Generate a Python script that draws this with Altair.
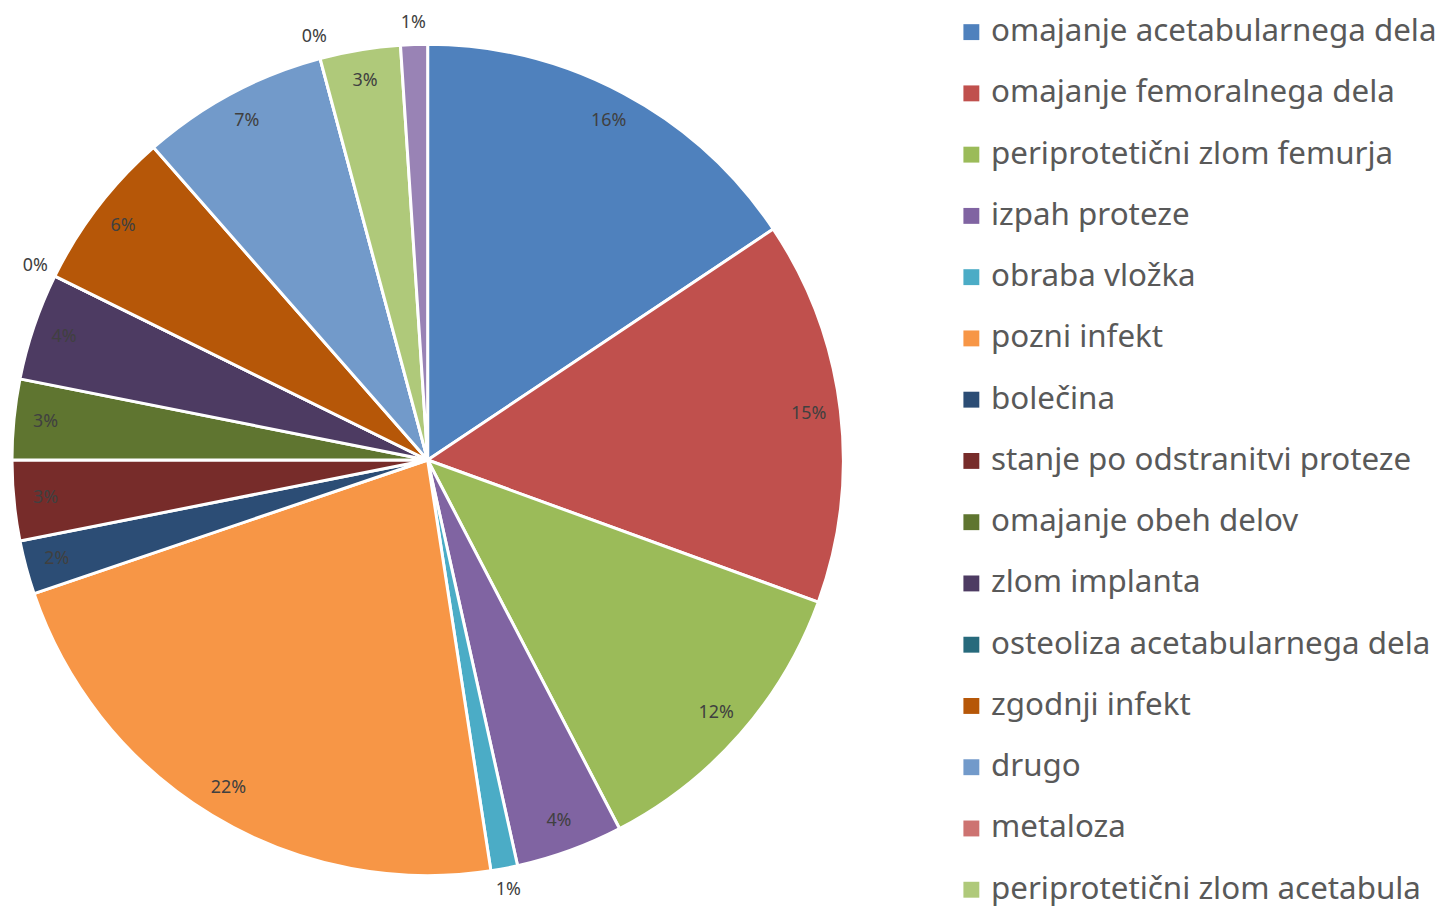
import altair as alt
import pandas as pd
import math

categories = [
    "omajanje acetabularnega dela",
    "omajanje femoralnega dela",
    "periprotetični zlom femurja",
    "izpah proteze",
    "obraba vložka",
    "pozni infekt",
    "bolečina",
    "stanje po odstranitvi proteze",
    "omajanje obeh delov",
    "zlom implanta",
    "osteoliza acetabularnega dela",
    "zgodnji infekt",
    "drugo",
    "metaloza",
    "periprotetični zlom acetabula",
    "ostalo",
]
counts = [45, 43, 34, 12, 3, 64, 6, 9, 9, 12, 0, 18, 21, 0, 9, 3]
colors = [
    "#4F81BD", "#C0504D", "#9BBB59", "#8064A2", "#4BACC6", "#F79646",
    "#2C4D75", "#772C2A", "#5F7530", "#4D3B62", "#276A7C", "#B65708",
    "#729ACA", "#CD7371", "#AFC97A", "#9983B5",
]

total = sum(counts)
df = pd.DataFrame({
    "cat": categories,
    "count": counts,
    "idx": list(range(len(categories))),
})
df["label"] = [f"{round(c / total * 100):.0f}%" for c in counts]
df["lr"] = [440 if c < 4 else 386 for c in counts]

FONT = "Noto Sans"
CX, CY, R = 422, 452, 418

theta_scale = alt.Scale(domain=[0, total], range=[0, 2 * math.pi])

pie = alt.Chart(df).mark_arc(radius=R, stroke="white", strokeWidth=3).encode(
    theta=alt.Theta("count:Q", stack=True, scale=theta_scale),
    order=alt.Order("idx:Q"),
    x=alt.value(CX),
    y=alt.value(CY),
    color=alt.Color(
        "cat:N",
        sort=categories,
        scale=alt.Scale(domain=categories, range=colors),
        legend=alt.Legend(
            title=None,
            values=categories[:15],
            orient="none",
            legendX=953,
            legendY=6,
            symbolType="square",
            symbolSize=256,
            symbolStrokeWidth=0,
            labelFontSize=31.5,
            labelFont=FONT,
            labelColor="#595959",
            labelLimit=0,
            rowPadding=28.6,
            labelOffset=4,
        ),
    ),
)

text = (
    alt.Chart(df)
    .transform_window(cum="sum(count)", sort=[alt.SortField("idx")], frame=[None, 0])
    .transform_calculate(mid="datum.cum - datum.count / 2")
    .mark_text(font=FONT, fontSize=18, color="#404040")
    .encode(
        theta=alt.Theta("mid:Q", stack=None, scale=theta_scale),
        x=alt.value(CX),
        y=alt.value(CY),
        radius=alt.Radius("lr:Q", scale=None),
        text="label:N",
    )
)

chart = (pie + text).properties(
    width=1439, height=898, padding=0, autosize=alt.AutoSizeParams(type="none")
).configure_view(stroke=None)

chart.save("out.html", embed_options={"renderer": "svg", "actions": False})
